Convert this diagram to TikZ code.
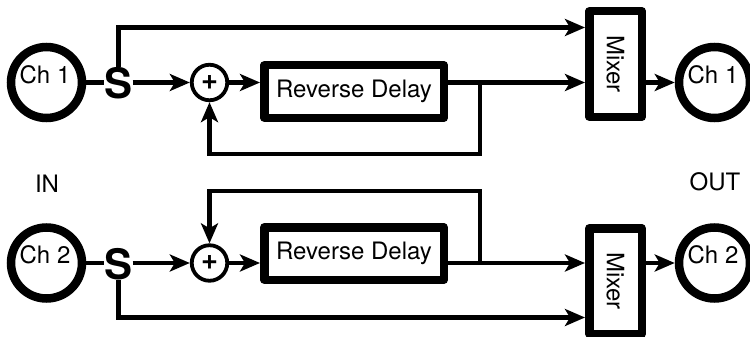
\documentclass[tikz,border=0pt]{standalone}
\usepackage{fontspec}
\setmainfont{TeX Gyre Heros}
\usetikzlibrary{arrows.meta}
\begin{document}
\begin{tikzpicture}[x=1pt,y=-1pt,
  conn/.style={line width=4.2pt},
  arr/.style={conn,-{Stealth[length=20pt,width=17pt,inset=5pt]}},
  port/.style={circle,draw,line width=8.5pt,minimum size=71pt,inner sep=0pt},
  block/.style={draw,line width=8.5pt,line join=round,inner sep=0pt,
    font=\fontsize{24}{28}\selectfont},
  delaybox/.style={block,minimum width=179.5pt,minimum height=52.5pt},
  mixbox/.style={block,minimum width=52.5pt,minimum height=105.5pt},
  sum/.style={circle,draw,line width=3.8pt,minimum size=35.5pt,inner sep=0pt,
    font=\fontsize{29}{29}\selectfont\bfseries},
  split/.style={inner sep=0pt,font=\fontsize{42}{42}\selectfont\bfseries},
  lbl/.style={inner sep=0pt,font=\fontsize{24}{28}\selectfont}]
\useasboundingbox (0,0) rectangle (750,337);
\clip (0,0) rectangle (750,337);

% ---- channel 1 ----
\node[port] (in1) at (46.5,82.5) {};
\node[lbl] (in1t) at (45,74.5) {Ch 1};
\node[split] (s1) at (118.5,83) {S};
\node[sum] (p1) at (209.5,82.5) {+};
\node[delaybox] (d1) at (354,91.5) {Reverse Delay};
\node[mixbox] (m1) at (615.5,64) {\rotatebox{-90}{Mixer}};
\node[port] (out1) at (714.5,82.5) {};
\node[lbl] (out1t) at (713,74.5) {Ch 1};
\coordinate (j1) at (480,82.5);
\coordinate (b1) at (118.5,27.5);

\draw[conn] (in1.east) -- (in1.east -| s1.west);
\draw[arr] (s1.east |- p1) -- (p1.west);
\draw[arr] (p1.east) -- (p1.east -| d1.west);
\draw[arr] (d1.east |- p1) -- (p1 -| m1.west);
\draw[arr] (j1) -- ++(0,71.5) -| (p1.south);
\draw[arr] (s1.north) -- (b1) -- (b1 -| m1.west);
\draw[arr] (m1.east |- out1) -- (out1.west);

% ---- channel 2 ----
\node[port] (in2) at (46.5,263) {};
\node[lbl] (in2t) at (45,255) {Ch 2};
\node[split] (s2) at (118.5,264) {S};
\node[sum] (p2) at (209.5,263) {+};
\node[delaybox] (d2) at (354,253.5) {Reverse Delay};
\node[mixbox] (m2) at (615.5,281) {\rotatebox{-90}{Mixer}};
\node[port] (out2) at (714.5,263) {};
\node[lbl] (out2t) at (713,255) {Ch 2};
\coordinate (j2) at (480,263);
\coordinate (b2) at (118.5,317.5);

\draw[conn] (in2.east) -- (in2.east -| s2.west);
\draw[arr] (s2.east |- p2) -- (p2.west);
\draw[arr] (p2.east) -- (p2.east -| d2.west);
\draw[arr] (d2.east |- p2) -- (p2 -| m2.west);
\draw[arr] (j2) -- ++(0,-72) -| (p2.north);
\draw[arr] (s2.south) -- (b2) -- (b2 -| m2.west);
\draw[arr] (m2.east |- out2) -- (out2.west);

% ---- side captions ----
\node[lbl] (inlbl) at (47,183.5) {IN};
\node[lbl] (outlbl) at (715,181.5) {OUT};
\end{tikzpicture}
\end{document}
